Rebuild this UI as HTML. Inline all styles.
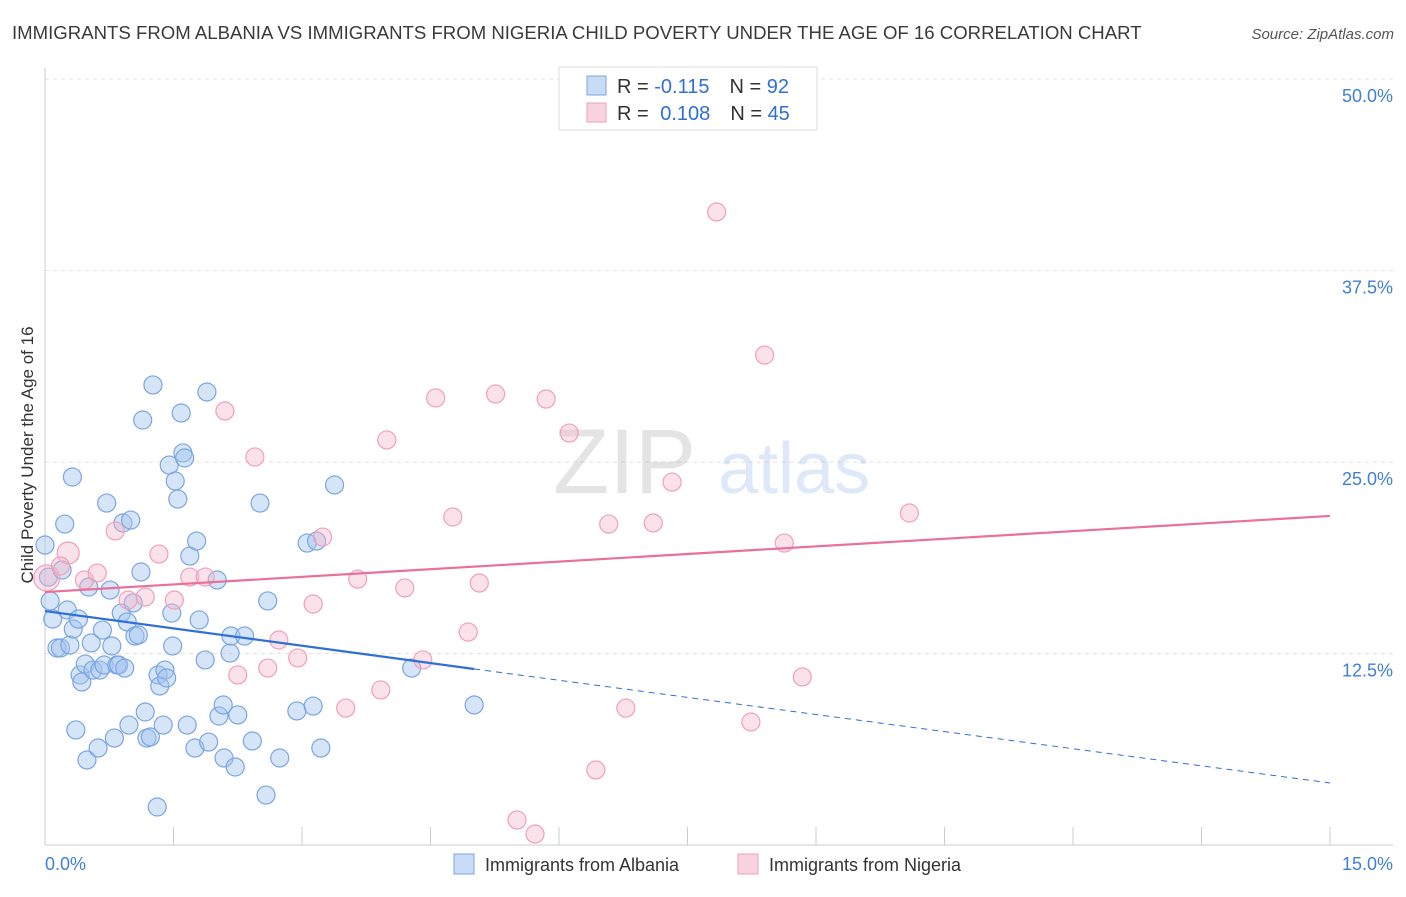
<!DOCTYPE html>
<html><head><meta charset="utf-8"><style>
body{margin:0;background:#fff;font-family:"Liberation Sans",sans-serif;}
svg text{font-family:"Liberation Sans",sans-serif;}
</style></head><body>
<svg id="chart" width="1406" height="892" xmlns="http://www.w3.org/2000/svg">
<text x="12" y="39" font-size="18.6" fill="#3a3a3a">IMMIGRANTS FROM ALBANIA VS IMMIGRANTS FROM NIGERIA CHILD POVERTY UNDER THE AGE OF 16 CORRELATION CHART</text>
<text x="1394" y="39" font-size="15" fill="#555" font-style="italic" text-anchor="end">Source: ZipAtlas.com</text>
<g id="grid"></g>
<g opacity="0.22">
<text x="553" y="493" font-size="92" font-family="Liberation Serif" fill="#888">ZIP</text>
<text x="718" y="493" font-size="72" fill="#6a9ee0">atlas</text>
</g>
<g id="axes"></g>
<g id="marks"></g>
<g id="trends"></g>
<text transform="translate(33,455) rotate(-90)" font-size="17" fill="#333" text-anchor="middle">Child Poverty Under the Age of 16</text>
<g>
<rect x="559" y="67" width="258" height="63" fill="#fff" stroke="#ddd"/>
<rect x="587" y="76" width="19" height="19" fill="rgba(164,196,240,0.6)" stroke="#7aa6e0"/>
<rect x="587" y="103" width="19" height="19" fill="rgba(244,180,200,0.6)" stroke="#f0a0b8"/>
<text x="617" y="93" font-size="20" fill="#333">R = <tspan fill="#2f6fd6">-0.115</tspan><tspan dx="20">N = </tspan><tspan fill="#2f6fd6">92</tspan></text>
<text x="617" y="120" font-size="20" fill="#333">R = <tspan dx="6" fill="#2f6fd6">0.108</tspan><tspan dx="20">N = </tspan><tspan fill="#2f6fd6">45</tspan></text>
</g>
<g>
<rect x="454" y="854" width="20" height="20" fill="rgba(164,196,240,0.6)" stroke="#7aa6e0"/>
<text x="485" y="871" font-size="18" fill="#333">Immigrants from Albania</text>
<rect x="738" y="854" width="20" height="20" fill="rgba(244,180,200,0.6)" stroke="#f0a0b8"/>
<text x="769" y="871" font-size="18" fill="#333">Immigrants from Nigeria</text>
</g>
</svg>
<script>
const yTicks=[12.5,25,37.5,50];
const yTickLabels=["12.5%","25.0%","37.5%","50.0%"];
const xTicks=[0,1.5,3,4.5,6,7.5,9,10.5,12,13.5,15];
const xTickLabels=["0.0%","15.0%"];
const albaniaX=[0.00,0.04,0.06,0.09,0.14,0.18,0.20,0.23,0.26,0.29,0.32,0.33,0.36,0.39,0.41,0.43,0.47,0.49,0.51,0.54,0.56,0.62,0.64,0.67,0.69,0.72,0.76,0.78,0.81,0.84,0.86,0.89,0.91,0.93,0.96,0.98,1.00,1.03,1.05,1.09,1.12,1.14,1.17,1.19,1.23,1.26,1.31,1.32,1.34,1.38,1.40,1.42,1.45,1.48,1.49,1.52,1.55,1.59,1.61,1.63,1.66,1.69,1.75,1.77,1.80,1.87,1.89,1.91,2.01,2.03,2.08,2.09,2.16,2.17,2.22,2.25,2.33,2.42,2.51,2.58,2.60,2.74,2.94,3.06,3.13,3.17,3.22,3.38,4.28,5.01];
const albaniaY=[19.58,17.49,15.93,14.75,12.86,12.86,17.95,20.95,15.34,13.05,24.02,14.10,7.51,14.75,11.10,10.64,11.81,5.55,16.84,13.19,11.42,6.33,11.42,14.03,11.75,22.32,16.64,12.99,6.98,11.75,11.75,15.14,21.02,11.55,14.56,7.83,21.21,15.80,13.64,13.71,17.82,27.74,8.68,6.98,7.05,30.03,2.48,11.10,10.38,7.83,11.42,10.90,24.80,15.14,12.99,23.76,22.58,28.20,25.59,25.26,7.83,18.86,6.33,19.84,14.69,12.08,29.57,6.72,17.30,8.42,9.14,5.68,12.53,13.64,5.09,8.49,13.64,6.79,22.32,3.26,15.93,5.68,8.75,19.71,9.07,19.84,6.33,23.50,11.55,9.14];
const nigeriaX=[0.02,0.27,0.18,0.46,0.61,0.82,0.97,1.17,1.33,1.51,1.69,1.87,2.10,2.25,2.45,2.60,2.73,2.95,3.13,3.24,3.51,3.65,3.92,3.99,4.20,4.41,4.56,4.76,4.94,5.07,5.26,5.51,5.72,5.85,6.12,6.43,6.58,6.78,7.10,7.32,7.84,8.24,8.40,8.63,8.84,10.09];
const nigeriaY=[17.43,19.06,18.21,17.30,17.75,20.50,15.99,16.19,18.99,15.99,17.49,17.49,28.33,11.10,25.33,11.55,13.38,12.21,15.73,20.10,8.94,17.36,10.12,26.44,16.78,12.08,29.18,21.41,13.90,17.10,29.44,1.63,0.72,29.11,26.89,4.90,20.95,8.94,21.02,23.69,41.32,8.03,31.98,19.71,10.97,21.67];
const albaniaTrendX=[0,5.01,15];
const albaniaTrendY=[15.27,11.49,4.05];
const nigeriaTrendX=[0,15];
const nigeriaTrendY=[16.51,21.48];

const NS="http://www.w3.org/2000/svg";
const X0=45,X1=1330,Y0=845,PERY=191.5/12.5;
function xs(v){return X0+(v/15)*(X1-X0);}
function ys(v){return Y0-v*PERY;}
function mk(tag,attrs,parent){const e=document.createElementNS(NS,tag);for(const k in attrs)e.setAttribute(k,attrs[k]);parent.appendChild(e);return e;}
const grid=document.getElementById('grid'),axes=document.getElementById('axes'),marks=document.getElementById('marks'),trends=document.getElementById('trends');
yTicks.forEach((t,i)=>{
  const l=mk('line',{x1:X0,x2:1393,y1:ys(t),y2:ys(t),stroke:'#e2e2e2','stroke-dasharray':'4,4'},grid);
  
  
  const tx=mk('text',{x:1393,y:ys(t)+23,'font-size':18,fill:'#3f7fd6','text-anchor':'end'},axes);
  tx.textContent=yTickLabels[i];
  
  
});
const ax=mk('line',{x1:X0,x2:1393,y1:Y0,y2:Y0,stroke:'#ccc'},axes);


const ay=mk('line',{x1:X0,x2:X0,y1:68,y2:Y0,stroke:'#ccc'},axes);


xTicks.forEach(t=>{
  const l=mk('line',{x1:xs(t),x2:xs(t),y1:Y0,y2:Y0-18,stroke:'#ccc'},axes);
  
  
});
const xl0=mk('text',{x:45,y:870,'font-size':18,fill:'#3f7fd6'},axes);xl0.textContent=xTickLabels[0];


const xl1=mk('text',{x:1393,y:870,'font-size':18,fill:'#3f7fd6','text-anchor':'end'},axes);xl1.textContent=xTickLabels[1];


albaniaX.forEach((v,i)=>{
  const c=mk('circle',{cx:xs(v),cy:ys(albaniaY[i]),r:9,fill:'rgba(164,196,240,0.45)',stroke:'#7aa6e0','stroke-width':1.2},marks);
  
  
});
nigeriaX.forEach((v,i)=>{
  const c=mk('circle',{cx:xs(v),cy:ys(nigeriaY[i]),r:i<2?(i==0?13:11):9,fill:'rgba(244,180,200,0.4)',stroke:'#f0a0b8','stroke-width':1.2},marks);
  
  
});
const b1=mk('line',{x1:xs(albaniaTrendX[0]),y1:ys(albaniaTrendY[0]),x2:xs(albaniaTrendX[1]),y2:ys(albaniaTrendY[1]),stroke:'#2f6fd6','stroke-width':2.2},trends);


const b2=mk('line',{x1:xs(albaniaTrendX[1]),y1:ys(albaniaTrendY[1]),x2:xs(albaniaTrendX[2]),y2:ys(albaniaTrendY[2]),stroke:'#2f6fd6','stroke-width':1,'stroke-dasharray':'6,5'},trends);


const p1=mk('line',{x1:xs(nigeriaTrendX[0]),y1:ys(nigeriaTrendY[0]),x2:xs(nigeriaTrendX[1]),y2:ys(nigeriaTrendY[1]),stroke:'#e8709a','stroke-width':2.2},trends);


</script>
</body></html>
